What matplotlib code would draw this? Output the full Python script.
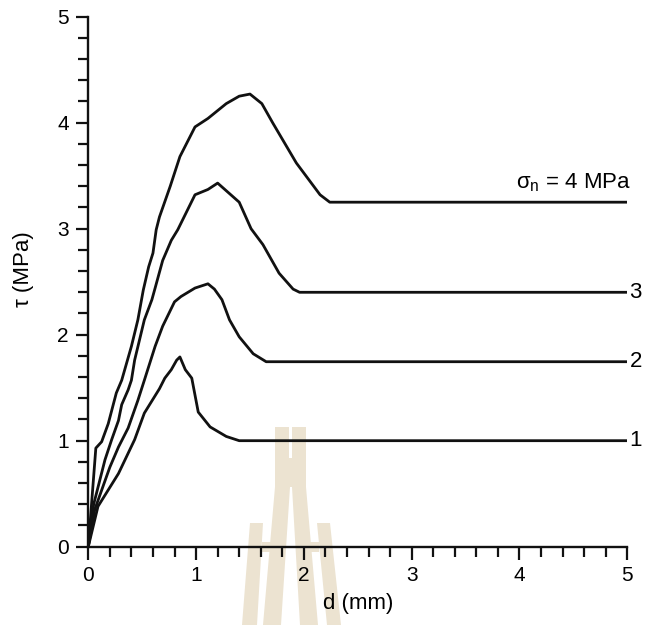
import matplotlib
matplotlib.use("Agg")
import matplotlib.pyplot as plt
from matplotlib.patches import Polygon
from matplotlib.ticker import MultipleLocator

plt.rcParams['font.family'] = ['Liberation Sans', 'DejaVu Sans']
plt.rcParams['mathtext.fontset'] = 'custom'
plt.rcParams['mathtext.rm'] = 'Liberation Sans'

# Shear stress vs shear displacement for four normal stresses
d_1 = [0, 0.09, 0.28, 0.43, 0.52, 0.66, 0.71, 0.77, 0.82, 0.85, 0.90, 0.96, 1.02, 1.13, 1.28, 1.40, 5.0]
tau_1 = [0, 0.38, 0.69, 1.01, 1.26, 1.49, 1.59, 1.67, 1.76, 1.79, 1.67, 1.59, 1.27, 1.13, 1.04, 1.0, 1.0]

d_2 = [0, 0.06, 0.20, 0.28, 0.37, 0.46, 0.52, 0.62, 0.69, 0.80, 0.86, 0.99, 1.11, 1.17, 1.24, 1.31,
       1.40, 1.53, 1.65, 5.0]
tau_2 = [0, 0.35, 0.75, 0.94, 1.12, 1.38, 1.57, 1.89, 2.08, 2.31, 2.36, 2.44, 2.48, 2.43, 2.33, 2.14,
         1.98, 1.82, 1.745, 1.745]

d_3 = [0, 0.05, 0.155, 0.217, 0.28, 0.31, 0.37, 0.40, 0.43, 0.52, 0.59, 0.62, 0.69, 0.77, 0.83, 0.99,
       1.11, 1.20, 1.40, 1.51, 1.62, 1.77, 1.90, 1.96, 5.0]
tau_3 = [0, 0.40, 0.82, 1.01, 1.19, 1.34, 1.48, 1.57, 1.76, 2.14, 2.33, 2.44, 2.70, 2.89, 2.99, 3.32,
         3.37, 3.43, 3.25, 3.00, 2.85, 2.58, 2.43, 2.40, 2.40]

d_4 = [0, 0.07, 0.124, 0.185, 0.26, 0.31, 0.40, 0.46, 0.51, 0.56, 0.60, 0.63, 0.66, 0.76, 0.85, 0.99,
       1.11, 1.28, 1.40, 1.50, 1.61, 1.71, 1.93, 2.15, 2.24, 5.0]
tau_4 = [0, 0.93, 0.99, 1.16, 1.45, 1.57, 1.89, 2.14, 2.42, 2.64, 2.77, 2.99, 3.11, 3.40, 3.68, 3.96,
         4.04, 4.18, 4.25, 4.27, 4.18, 4.00, 3.62, 3.32, 3.25, 3.25]

curves = [(d_1, tau_1, "1"), (d_2, tau_2, "2"), (d_3, tau_3, "3"), (d_4, tau_4, None)]

fig = plt.figure(figsize=(6.53, 6.25), dpi=100)
ax = fig.add_axes([0.1352, 0.1253, 0.8254, 0.848])
ax.patch.set_alpha(0)

# faint logo watermark behind the plot (pixel outlines, origin top-left)
wm_shapes = [
    [(275, 427), (289, 427), (289, 458), (292, 458), (292, 427), (306, 427), (306, 487), (275, 487)],
    [(275, 487), (290, 487), (281, 625), (263, 625)],
    [(292, 487), (306, 487), (318, 625), (300, 625)],
    [(250, 523), (263, 523), (257, 625), (242, 625)],
    [(317, 523), (330, 523), (341, 625), (327, 625)],
    [(262, 542), (278, 542), (278, 552), (262, 552)],
    [(303, 542), (319, 542), (319, 552), (303, 552)],
]
for shp in wm_shapes:
    pts = [(px / 653, 1 - py / 625) for px, py in shp]
    fig.patches.append(Polygon(pts, closed=True, transform=fig.transFigure,
                               facecolor='#ece3d1', edgecolor='none', zorder=-5))

for d, tau, lab in curves:
    ax.plot(d, tau, color='#111111', lw=2.0, solid_joinstyle='round')
    if lab is not None:
        ax.text(5.02, tau[-1], lab, fontsize=16, ha='left', va='center', clip_on=False)

ax.text(5.03, 3.43, 'σ$_{\\mathrm{n}}$ = 4 MPa', fontsize=16, ha='right', va='center')

ax.set_xlim(0, 5)
ax.set_ylim(0, 5)
ax.xaxis.set_major_locator(MultipleLocator(1))
ax.xaxis.set_minor_locator(MultipleLocator(0.2))
ax.yaxis.set_major_locator(MultipleLocator(1))
ax.yaxis.set_minor_locator(MultipleLocator(0.2))

for side in ['top', 'right']:
    ax.spines[side].set_visible(False)
for side in ['left', 'bottom']:
    ax.spines[side].set_linewidth(1.7)
    ax.spines[side].set_color('#111111')

ax.tick_params(which='major', direction='out', length=9, width=1.6, labelsize=15, pad=5,
               color='#111111')
ax.tick_params(which='minor', direction='out', length=7, width=1.6, color='#111111')

ax.set_xlabel('d (mm)', fontsize=16)
ax.set_ylabel('τ (MPa)', fontsize=16)
ax.xaxis.set_label_coords(0.50, -0.088)
ax.yaxis.set_label_coords(-0.10, 0.524)

fig.savefig('out.png', dpi=100)
